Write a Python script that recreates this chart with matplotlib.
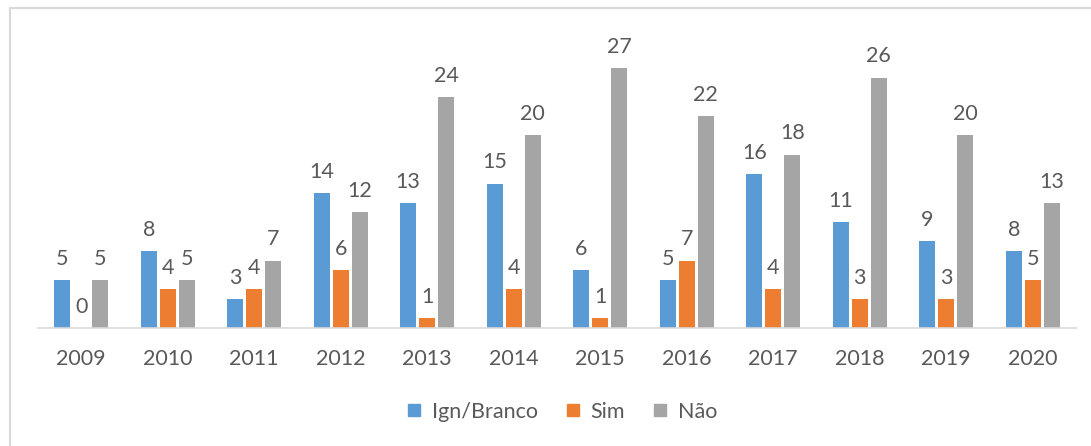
import matplotlib.pyplot as plt
import numpy as np
from matplotlib.lines import Line2D

years = ["2009", "2010", "2011", "2012", "2013", "2014", "2015", "2016", "2017", "2018", "2019", "2020"]
ign_branco = [5, 8, 3, 14, 13, 15, 6, 5, 16, 11, 9, 8]
sim = [0, 4, 4, 6, 1, 4, 1, 7, 4, 3, 3, 5]
nao = [5, 5, 7, 12, 24, 20, 27, 22, 18, 26, 20, 13]

series_names = ["Ign/Branco", "Sim", "Não"]
colors = ["#5B9BD5", "#ED7D31", "#A5A5A5"]
text_color = "#595959"

plt.rcParams["font.family"] = ["Lato", "DejaVu Sans"]

fig = plt.figure(figsize=(10.91, 4.46), dpi=100)
ax = fig.add_axes([38 / 1091, 1 - 328 / 446, (1076 - 38) / 1091, (328 - 39) / 446])

x = np.arange(len(years))
width = 0.185
offsets = [-0.22, 0.0, 0.22]
for vals, name, color, off in zip([ign_branco, sim, nao], series_names, colors, offsets):
    bars = ax.bar(x + off, vals, width=width, color=color, label=name, zorder=2)
    for rect, v in zip(bars, vals):
        ax.annotate(str(v), (rect.get_x() + rect.get_width() / 2, rect.get_height()),
                    xytext=(0, 8), textcoords="offset points", ha="center", va="bottom",
                    fontsize=15.5, color=text_color, annotation_clip=False)

ax.set_xlim(-0.5, len(years) - 0.5)
ax.set_ylim(0, 30)
ax.set_xticks(x)
ax.set_xticklabels(years, fontsize=15.5, color=text_color)
ax.tick_params(axis="x", length=0, pad=15)
ax.set_yticks([])
for side in ["top", "right", "left"]:
    ax.spines[side].set_visible(False)
ax.spines["bottom"].set_color("#D9D9D9")
ax.spines["bottom"].set_linewidth(1.2)

# outer chart frame
fig.add_artist(Line2D([10 / 1091, 10 / 1091], [0, 1 - 8 / 446], transform=fig.transFigure,
                      color="#D9D9D9", lw=1.5))
fig.add_artist(Line2D([10 / 1091, 1], [1 - 8 / 446, 1 - 8 / 446], transform=fig.transFigure,
                      color="#D9D9D9", lw=1.5))

handles = [Line2D([], [], marker="s", linestyle="none", markersize=9, color=c) for c in colors]
fig.legend(handles, series_names, loc="center", bbox_to_anchor=(562 / 1091, 1 - 412 / 446),
           ncol=3, frameon=False, fontsize=15.5, labelcolor=text_color, handlelength=0.7,
           handletextpad=0.45, columnspacing=1.3)

fig.savefig("out.png", dpi=100)
